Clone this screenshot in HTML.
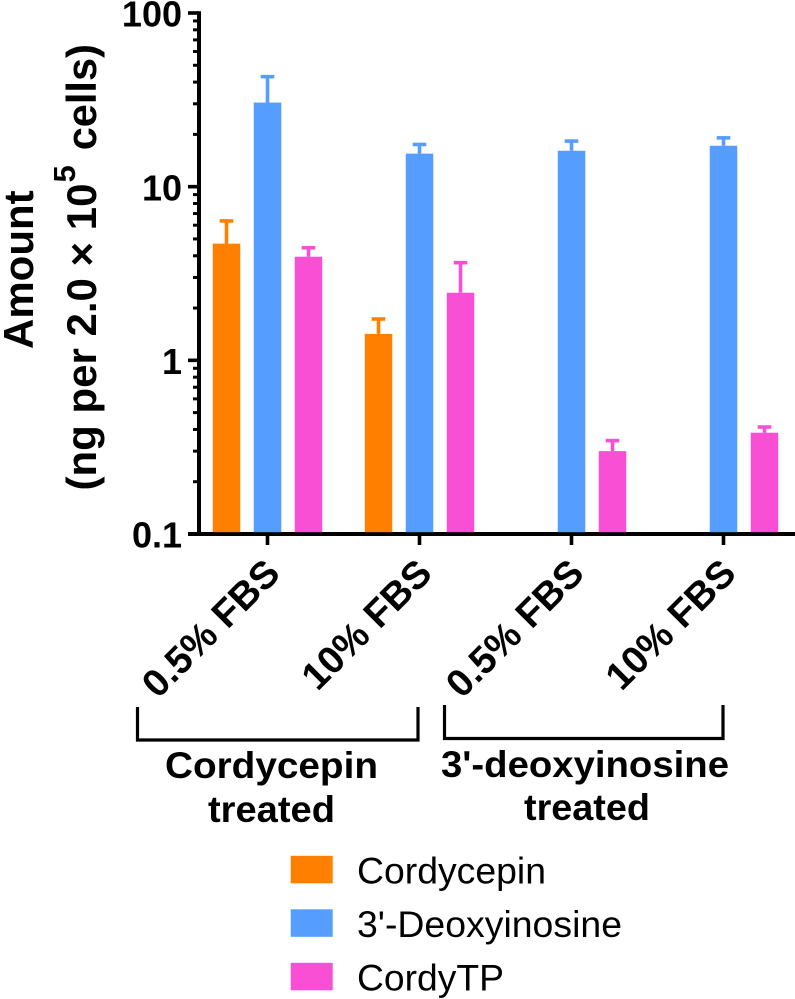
<!DOCTYPE html>
<html lang="en">
<head>
<meta charset="utf-8">
<title>Amount of cordycepin, 3'-deoxyinosine and CordyTP</title>
<style>
html,body{margin:0;padding:0;background:#fff}
svg{display:block;font-family:"Liberation Sans",sans-serif}
</style>
</head>
<body>
<svg id="chart" xmlns="http://www.w3.org/2000/svg" width="795" height="999" viewBox="0 0 795 999">
  <g id="y-axis"></g>
  <g id="x-axis"></g>
  <g id="bars"></g>

  <text transform="translate(33,349) rotate(-90)" font-weight="bold" font-size="42">Amount</text>
  <text transform="translate(96,490.500) rotate(-90)" font-weight="bold" font-size="42">(ng per 2.0 × 10<tspan dx="1" dy="-21" font-size="31">5</tspan><tspan dx="15" dy="21" font-size="41.500">cells</tspan><tspan>)</tspan></text>

  <path d="M137.500 707V740H418V707" fill="none" stroke="#000" stroke-width="3.2"/>
  <path d="M444.500 705V738.500H723V705" fill="none" stroke="#000" stroke-width="3.2"/>

  <text x="271.500" y="778" text-anchor="middle" font-weight="bold" font-size="37" textLength="213" lengthAdjust="spacingAndGlyphs">Cordycepin</text>
  <text x="271.500" y="822" text-anchor="middle" font-weight="bold" font-size="37" textLength="127" lengthAdjust="spacingAndGlyphs">treated</text>
  <text x="585" y="777" text-anchor="middle" font-weight="bold" font-size="37" textLength="288" lengthAdjust="spacingAndGlyphs">3'-deoxyinosine</text>
  <text x="587" y="820" text-anchor="middle" font-weight="bold" font-size="37" textLength="126" lengthAdjust="spacingAndGlyphs">treated</text>

  <g id="legend"></g>
</svg>
<script>
var categories = ["0.5% FBS", "10% FBS", "0.5% FBS", "10% FBS"];
var seriesNames = ["Cordycepin", "3'-Deoxyinosine", "CordyTP"];
var seriesColors = ["#ff8000", "#559eff", "#f84fd4"];
var cordycepinValues = [4.7, 1.42, null, null];
var cordycepinErrorTops = [6.35, 1.73, null, null];
var deoxyinosineValues = [30.5, 15.5, 16.1, 17.2];
var deoxyinosineErrorTops = [43, 17.5, 18.3, 19.1];
var cordyTPValues = [3.95, 2.45, 0.30, 0.383];
var cordyTPErrorTops = [4.45, 3.65, 0.345, 0.413];
var majorTicks = [100, 10, 1, 0.1];
var majorTickLabels = ["100", "10", "1", "0.1"];
var minorTicks = [90, 80, 70, 60, 50, 40, 30, 20, 9, 8, 7, 6, 5, 4, 3, 2, 0.9, 0.8, 0.7, 0.6, 0.5, 0.4, 0.3, 0.2];

var seriesValues = [cordycepinValues, deoxyinosineValues, cordyTPValues];
var seriesErrorTops = [cordycepinErrorTops, deoxyinosineErrorTops, cordyTPErrorTops];

var SVG_NS = "http://www.w3.org/2000/svg";
var PLOT = { left: 199, right: 795, top: 13, bottom: 534, firstCat: 267.5, catStep: 152, barOffset: 41, barWidth: 27.5, axisMin: 0.1, axisMax: 100 };

function yScale(v) {
  var span = Math.log10(PLOT.axisMax) - Math.log10(PLOT.axisMin);
  return PLOT.bottom - (Math.log10(v) - Math.log10(PLOT.axisMin)) / span * (PLOT.bottom - PLOT.top);
}
function xScale(catIndex, seriesIndex) {
  return PLOT.firstCat + catIndex * PLOT.catStep + (seriesIndex - 1) * PLOT.barOffset;
}
function make(tag, parent, attrs) {
  var el = document.createElementNS(SVG_NS, tag);
  for (var k in attrs) el.setAttribute(k, attrs[k]);
  parent.appendChild(el);
  return el;
}

var yAxis = document.getElementById("y-axis");
var xAxis = document.getElementById("x-axis");
var barsGroup = document.getElementById("bars");
var legend = document.getElementById("legend");

var yLine = make("line", yAxis, { x1: PLOT.left, x2: PLOT.left, y1: yScale(PLOT.axisMax) - 1.8, y2: yScale(PLOT.axisMin) + 2, stroke: "#000", "stroke-width": 4 });



majorTicks.forEach(function (v, i) {
  var tick = make("line", yAxis, { x1: 188, x2: PLOT.left, y1: yScale(v), y2: yScale(v), stroke: "#000", "stroke-width": 3.6 });
  
  
  var label = make("text", yAxis, { x: 182, y: yScale(v) + 13.7, "text-anchor": "end", "font-weight": "bold", "font-size": 36 });
  label.textContent = majorTickLabels[i];
  
  
});

minorTicks.forEach(function (v) {
  var tick = make("line", yAxis, { x1: 193, x2: PLOT.left, y1: yScale(v), y2: yScale(v), stroke: "#000", "stroke-width": 3 });
  
  
});

var xLine = make("line", xAxis, { x1: 188, x2: PLOT.right, y1: PLOT.bottom, y2: PLOT.bottom, stroke: "#000", "stroke-width": 4 });



categories.forEach(function (name, c) {
  var cx = xScale(c, 1);
  var tick = make("line", xAxis, { x1: cx, x2: cx, y1: PLOT.bottom, y2: PLOT.bottom + 11, stroke: "#000", "stroke-width": 3.6 });
  
  
  var label = make("text", xAxis, { transform: "translate(" + (cx + 14.5) + ",575.5) rotate(-45)", "text-anchor": "end", "font-weight": "bold", "font-size": 38.5 });
  label.textContent = name;
  
  
});

seriesValues.forEach(function (values, s) {
  values.forEach(function (v, c) {
    if (v === null) return;
    var cx = xScale(c, s);
    var top = yScale(v);
    var errTop = yScale(seriesErrorTops[s][c]);
    var stem = make("line", barsGroup, { x1: cx, x2: cx, y1: top, y2: errTop, stroke: seriesColors[s], "stroke-width": 3.6 });
    
    
    var cap = make("line", barsGroup, { x1: cx - 6.800, x2: cx + 6.800, y1: errTop, y2: errTop, stroke: seriesColors[s], "stroke-width": 3.6 });
    
    
    var bar = make("rect", barsGroup, { x: cx - PLOT.barWidth / 2, y: top, width: PLOT.barWidth, height: PLOT.bottom - 1.8 - top, fill: seriesColors[s] });
    
    
  });
});

var legendTextWidths = [189, 265, 147];
seriesNames.forEach(function (name, s) {
  var baseY = 883.3 + s * 53.5;
  var swatch = make("rect", legend, { x: 290.7, y: baseY - 27.5, width: 42, height: 27.5, fill: seriesColors[s] });
  
  
  var text = make("text", legend, { x: 357, y: baseY, "font-size": 37, textLength: legendTextWidths[s], lengthAdjust: "spacingAndGlyphs" });
  text.textContent = name;
  
  
});
</script>
</body>
</html>
